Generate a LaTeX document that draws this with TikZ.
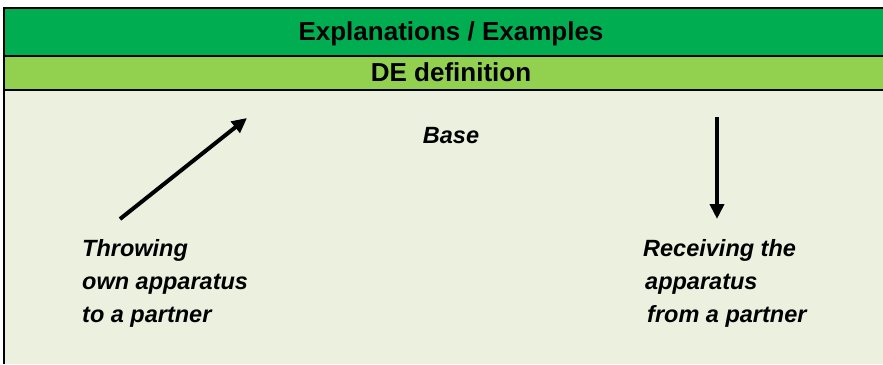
\documentclass[tikz,border=0pt]{standalone}
\usepackage{fontspec}
\setmainfont{Liberation Sans}
\usetikzlibrary{arrows.meta}
\definecolor{headgreen}{HTML}{00AD50}
\definecolor{subgreen}{HTML}{92D050}
\definecolor{bodygreen}{HTML}{EBF1DE}

\begin{document}
\begin{tikzpicture}[x=1pt,y=-1pt,
    head/.style={inner sep=0pt, font=\fontsize{26}{30}\selectfont\bfseries},
    note/.style={inner sep=0pt, align=left, font=\fontsize{23.5}{33}\selectfont\bfseries\itshape},
    arrow/.style={line width=4pt, -{Triangle[length=15pt,width=14pt]}}]
            \useasboundingbox (0,0) rectangle (883,364);
            \fill[bodygreen] (4,8) rectangle (883,364);
            \fill[headgreen] (4,8) rectangle (883,56);
            \fill[subgreen] (4,56) rectangle (883,90);
            \draw[line width=2pt] (883,8) -- (4,8) -- (4,364);
            \draw[line width=2pt] (4,56) -- (883,56);
            \draw[line width=2pt] (4,90) -- (883,90);

            \node[head, anchor=base] (title) at (451,40) {Explanations / Examples};
            \node[head, anchor=base] (def) at (451,81.5) {DE definition};
            \node[note, anchor=base] (base) at (451,143) {Base};

            % multi-line nodes: base anchor sits on the last line
            \node[note, anchor=base west] (throw) at (82,322) {Throwing\\own apparatus\\to a partner};
            \node[note, anchor=base west] (receive) at (643,322)
                {Receiving the\\\hspace*{2pt}apparatus\\\hspace*{4pt}from a partner};

            \coordinate (throwS) at (120,219);
            \coordinate (throwE) at (247,118);
            \coordinate (receiveS) at (717,117);
            \coordinate (receiveE) at (717,219);

            \draw[arrow] (throwS) -- (throwE);
            \draw[arrow] (receiveS) -- (receiveE);
        \end{tikzpicture}
\end{document}
